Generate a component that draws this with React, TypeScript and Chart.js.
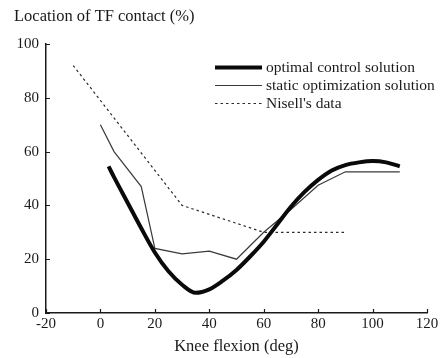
import React, { useEffect, useRef } from "react";
import { Chart, registerables } from "chart.js";
Chart.register(...registerables);

const yTitle = "Location of TF contact (%)";
const xTitle = "Knee flexion (deg)";

const optimalLabel = "optimal control solution";
const optimalX = [3, 5, 10, 15, 20, 25, 30, 35, 40, 45, 50, 55, 60, 65, 70, 75, 80, 85, 90, 95, 100, 105, 110];
const optimalY = [54.5, 50.5, 41, 31.5, 22.5, 15.5, 10.5, 7.5, 8.8, 12, 16, 21, 26.5, 33, 39.5, 45, 49.5, 53, 55, 56, 56.5, 56, 54.5];

const staticLabel = "static optimization solution";
const staticX = [0, 5, 15, 20, 30, 40, 50, 60, 70, 80, 90, 110];
const staticY = [70, 60, 47, 24, 22, 23, 20, 30, 38.5, 47.5, 52.5, 52.5];

const nisellLabel = "Nisell's data";
const nisellX = [-10, 30, 60, 90];
const nisellY = [92, 40, 30, 30];

const xTicks = [-20, 0, 20, 40, 60, 80, 100, 120];
const yTicks = [0, 20, 40, 60, 80, 100];

const INK = "#1a1a1a";
const FONT = "'Liberation Serif', 'Times New Roman', serif";

const toPts = (xs: number[], ys: number[]) => xs.map((x, i) => ({ x, y: ys[i] }));

const decorPlugin = {
  id: "decor",
  afterDraw(chart: any) {
    const { ctx, chartArea, scales } = chart;
    const xs = scales.x;
    const ys = scales.y;
    ctx.save();
    ctx.strokeStyle = INK;
    ctx.lineWidth = 1.2;
    ctx.beginPath();
    xTicks.forEach((v) => {
      const px = Math.round(xs.getPixelForValue(v)) + 0.5;
      ctx.moveTo(px, chartArea.bottom);
      ctx.lineTo(px, chartArea.bottom - 4);
    });
    yTicks.forEach((v) => {
      const py = Math.round(ys.getPixelForValue(v)) + 0.5;
      ctx.moveTo(chartArea.left, py);
      ctx.lineTo(chartArea.left + 4, py);
    });
    ctx.stroke();
    ctx.fillStyle = INK;
    ctx.font = `16.5px ${FONT}`;
    ctx.textAlign = "left";
    ctx.textBaseline = "middle";
    ctx.fillText(yTitle, 14, 17);
    const x0 = chartArea.right - 212;
    const x1 = chartArea.right - 165;
    const rows = chart.data.datasets;
    ctx.font = `15.5px ${FONT}`;
    rows.forEach((ds: any, i: number) => {
      const y = chartArea.top + 23.5 + i * 18;
      ctx.save();
      ctx.strokeStyle = ds.borderColor;
      ctx.lineWidth = ds.borderWidth;
      ctx.setLineDash(ds.borderDash || []);
      ctx.beginPath();
      ctx.moveTo(x0, y);
      ctx.lineTo(x1, y);
      ctx.stroke();
      ctx.restore();
      ctx.fillStyle = INK;
      ctx.fillText(ds.label, x1 + 4, y);
    });
    ctx.restore();
  },
};

export default function App() {
  const ref = useRef<HTMLCanvasElement | null>(null);
  useEffect(() => {
    if (!ref.current) return;
    const chart = new Chart(ref.current, {
      type: "line",
      data: {
        datasets: [
          {
            label: optimalLabel,
            data: toPts(optimalX, optimalY),
            borderColor: "#0a0a0a",
            borderWidth: 4,
            pointRadius: 0,
            cubicInterpolationMode: "monotone",
            fill: false,
          },
          {
            label: staticLabel,
            data: toPts(staticX, staticY),
            borderColor: "#3a3a3a",
            borderWidth: 1.2,
            pointRadius: 0,
            tension: 0,
            fill: false,
          },
          {
            label: nisellLabel,
            data: toPts(nisellX, nisellY),
            borderColor: "#2a2a2a",
            borderWidth: 1.2,
            borderDash: [2.5, 3],
            pointRadius: 0,
            tension: 0,
            fill: false,
          },
        ],
      },
      options: {
        animation: false,
        responsive: false,
        maintainAspectRatio: false,
        layout: { padding: { top: 44, right: 16, left: 0, bottom: 0 } },
        plugins: { legend: { display: false }, tooltip: { enabled: false }, title: { display: false } },
        scales: {
          x: {
            type: "linear",
            min: -20,
            max: 120,
            afterFit: (s: any) => { s.height = 45; },
            afterBuildTicks: (s: any) => { s.ticks = xTicks.map((v) => ({ value: v })); },
            grid: { display: false, drawTicks: false },
            border: { display: true, color: INK, width: 1.5 },
            ticks: { color: INK, font: { family: FONT, size: 15 }, padding: 2, maxRotation: 0, autoSkip: false },
            title: { display: true, text: xTitle, color: INK, font: { family: FONT, size: 16.5 }, padding: { top: 0, bottom: 1 } },
          },
          y: {
            type: "linear",
            min: 0,
            max: 100,
            afterFit: (s: any) => { s.width = 46; },
            afterBuildTicks: (s: any) => { s.ticks = yTicks.map((v) => ({ value: v })); },
            grid: { display: false, drawTicks: false },
            border: { display: true, color: INK, width: 1.5 },
            ticks: { color: INK, font: { family: FONT, size: 15 }, padding: 7, autoSkip: false },
          },
        },
      },
      plugins: [decorPlugin],
    } as any);
    return () => chart.destroy();
  }, []);
  return (
    <div style={{ position: "fixed", left: 0, top: 0, width: 443, height: 358, background: "#fff" }}>
      <canvas ref={ref} width={443} height={358} style={{ width: 443, height: 358 }} />
    </div>
  );
}
